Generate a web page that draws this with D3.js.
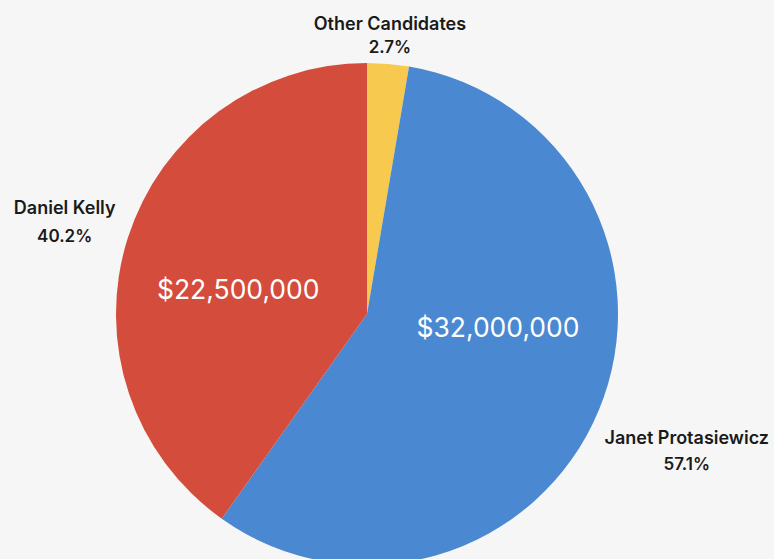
<!DOCTYPE html>
<html>
<head>
<meta charset="utf-8">
<script src="https://cdn.jsdelivr.net/npm/d3@7"></script>
<style>
  html, body { margin: 0; padding: 0; background: #f6f6f6; }
  svg { display: block; font-family: Inter, "Open Sans", sans-serif; }
</style>
</head>
<body>
<svg id="chart" width="774" height="559"></svg>
<script>
// Campaign fundraising by candidate
const candidates = ["Other Candidates", "Janet Protasiewicz", "Daniel Kelly"];
const amounts = [1500000, 32000000, 22500000];
const percents = ["2.7%", "57.1%", "40.2%"];
const colors = ["#f8c94f", "#4a89d1", "#d44c3c"];
const showAmount = [false, true, true];

const width = 774, height = 559;
const cx = 367, cy = 314, radius = 251;

const svg = d3.select("#chart");
svg.append("rect").attr("width", width).attr("height", height).attr("fill", "#f6f6f6");

const g = svg.append("g").attr("transform", `translate(${cx},${cy})`);

const data = candidates.map((name, i) => ({ name, amount: amounts[i], pct: percents[i], color: colors[i], showAmount: showAmount[i] }));

const pie = d3.pie().sort(null).value(d => d.amount);
const arcs = pie(data);
const arc = d3.arc().innerRadius(0).outerRadius(radius);

g.selectAll("path.slice")
  .data(arcs)
  .join("path")
  .attr("class", "slice")
  .attr("d", arc)
  .attr("fill", d => d.data.color);

// amount labels inside the two large slices
const innerPlacement = {
  "Janet Protasiewicz": { r: 132, dx: 9, dy: -37 },
  "Daniel Kelly": { r: 132, dx: -3, dy: 16 }
};
g.selectAll("text.amount")
  .data(arcs.filter(d => d.data.showAmount))
  .join("text")
  .attr("class", "amount")
  .attr("transform", d => {
    const p = innerPlacement[d.data.name];
    const c = d3.arc().innerRadius(p.r).outerRadius(p.r).centroid(d);
    return `translate(${c[0] + p.dx},${c[1] + p.dy})`;
  })
  .attr("text-anchor", "middle")
  .attr("dy", "0.35em")
  .attr("fill", "#ffffff")
  .style("font-size", "26.5px")
  .style("font-weight", 400)
  .text(d => "$" + d3.format(",")(d.data.amount));

// name + percentage labels outside the pie
const outerPlacement = {
  "Other Candidates": { r: 273, dx: 0, gap: 23 },
  "Janet Protasiewicz": { r: 371, dx: -23, gap: 26 },
  "Daniel Kelly": { r: 290, dx: -26, gap: 28 }
};
const outer = g.selectAll("g.outer")
  .data(arcs)
  .join("g")
  .attr("class", "outer")
  .attr("transform", d => {
    const p = outerPlacement[d.data.name];
    const c = d3.arc().innerRadius(p.r).outerRadius(p.r).centroid(d);
    return `translate(${c[0] + p.dx},${c[1]})`;
  });

outer.append("text")
  .attr("text-anchor", "middle")
  .attr("y", -12)
  .attr("fill", "#1a1a1a")
  .style("font-size", "18px")
  .style("font-weight", 600)
  .text(d => d.data.name);

outer.append("text")
  .attr("text-anchor", "middle")
  .attr("y", d => -12 + outerPlacement[d.data.name].gap)
  .attr("fill", "#1a1a1a")
  .style("font-size", "17px")
  .style("font-weight", 600)
  .text(d => d.data.pct);
</script>
</body>
</html>
